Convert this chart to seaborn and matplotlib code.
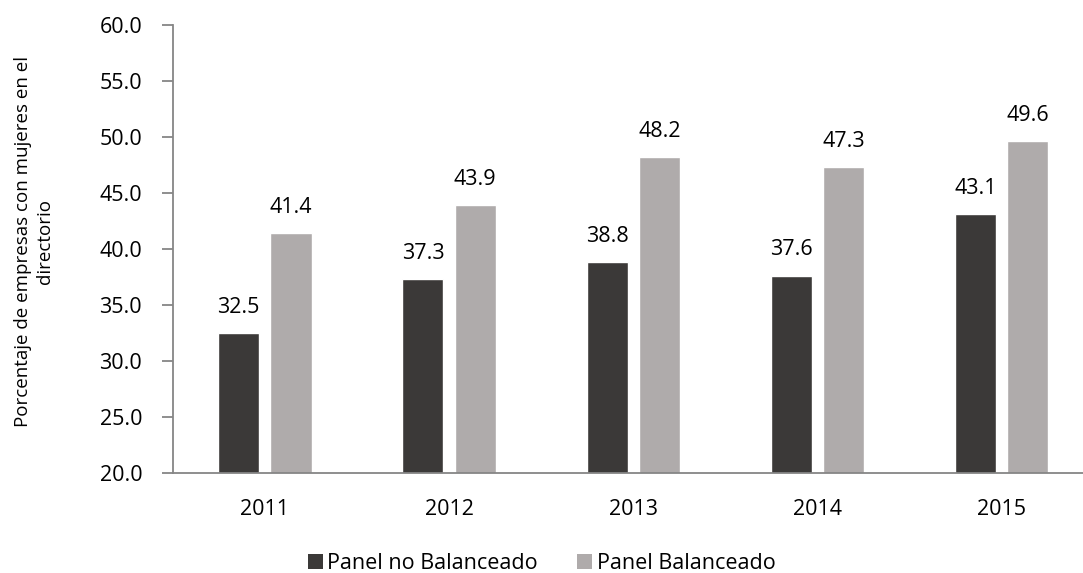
import matplotlib
matplotlib.use("Agg")
import matplotlib.pyplot as plt
import seaborn as sns
import pandas as pd
from matplotlib.patches import Patch

years = ["2011", "2012", "2013", "2014", "2015"]
no_balanceado = [32.5, 37.3, 38.8, 37.6, 43.1]
balanceado = [41.4, 43.9, 48.2, 47.3, 49.6]
series_names = ["Panel no Balanceado", "Panel Balanceado"]
colors = ["#3b3938", "#afabab"]
ylabel = "Porcentaje de empresas con mujeres en el\ndirectorio"

df = pd.DataFrame({
    "year": years * 2,
    "value": no_balanceado + balanceado,
    "serie": [series_names[0]] * len(years) + [series_names[1]] * len(years),
})

sns.set_style("white")
plt.rcParams["font.family"] = ["Open Sans", "DejaVu Sans"]
plt.rcParams["text.color"] = "black"
plt.rcParams["axes.labelcolor"] = "black"
plt.rcParams["xtick.labelcolor"] = "black"
plt.rcParams["ytick.labelcolor"] = "black"
FS = 15.5

fig = plt.figure(figsize=(10.83, 5.73), dpi=100)
ax = fig.add_axes([0.1595, 0.175, 1.0099 - 0.1595, 0.9564 - 0.175])

sns.barplot(data=df, x="year", y="value", hue="serie", palette=colors,
            width=0.568, gap=0.215, ax=ax, legend=False, saturation=1)

ax.set_ylim(20, 60)
ax.set_yticks([20, 25, 30, 35, 40, 45, 50, 55, 60])
ax.set_yticklabels([f"{v:.1f}" for v in range(20, 61, 5)], fontsize=FS)
ax.set_xlim(-0.5, 4.5)
ax.set_xticks(range(len(years)))
ax.set_xticklabels(years, fontsize=FS)
ax.set_xticks([i - 0.5 for i in range(len(years) + 1)], minor=True)
ax.tick_params(axis="x", which="major", length=0, pad=19, labelcolor="black")
ax.tick_params(axis="x", which="minor", length=8, width=1.3, color="#868686", direction="out")
ax.tick_params(axis="y", length=8, width=1.3, color="#868686", direction="out", pad=14,
               left=True, labelcolor="black")
ax.set_xlabel("")
ax.set_ylabel(ylabel, fontsize=13.5, linespacing=1.25, color="black")
ax.yaxis.set_label_coords(-0.129, 0.516)

for s in ["top", "right"]:
    ax.spines[s].set_visible(False)
for s in ["left", "bottom"]:
    ax.spines[s].set_color("#868686")
    ax.spines[s].set_linewidth(1.3)

for cont in ax.containers:
    for bar in cont:
        h = bar.get_height()
        ax.annotate(f"{h:.1f}", (bar.get_x() + bar.get_width() / 2, h),
                    xytext=(0, 11), textcoords="offset points",
                    ha="center", va="bottom", fontsize=FS, color="black")

handles = [Patch(facecolor=c, edgecolor="none") for c in colors]
fig.legend(handles, series_names, loc="center", bbox_to_anchor=(0.5, 0.016),
           ncol=2, frameon=False, fontsize=FS, handlelength=0.7, handleheight=0.7,
           handletextpad=0.2, columnspacing=1.85, labelcolor="black")

fig.savefig("out.png", dpi=100)
